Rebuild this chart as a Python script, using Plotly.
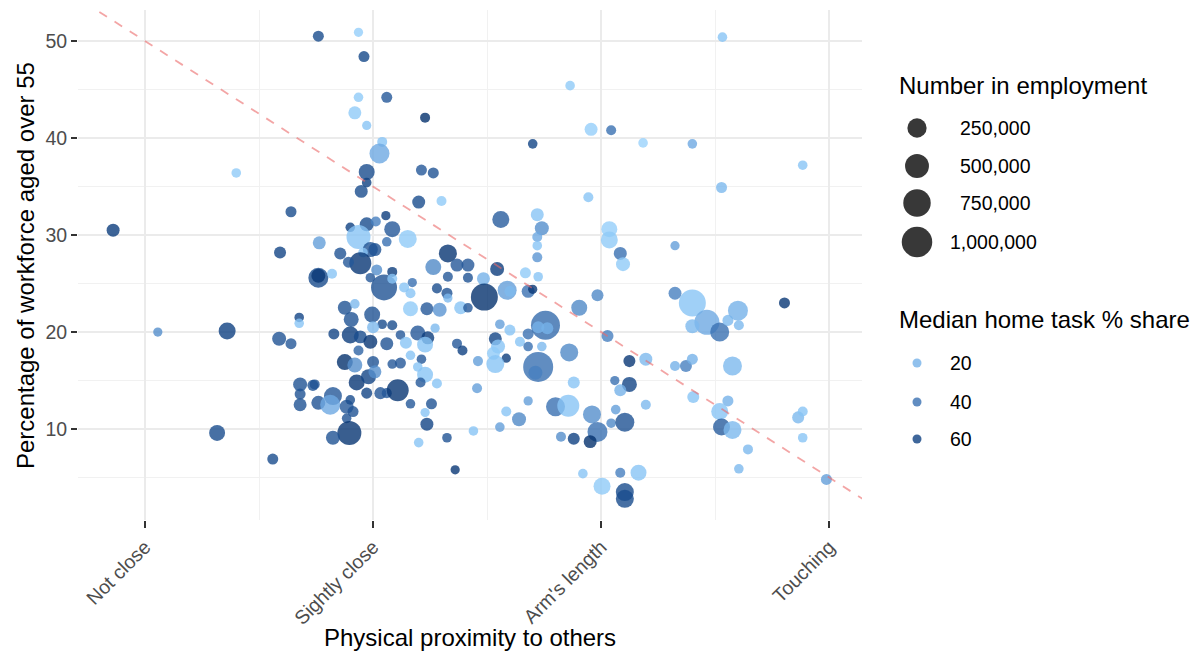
import numpy as np
import plotly.graph_objects as go

# ---------------- data ----------------
# physical proximity score (0 = Not close, 25 = Slightly close, 50 = Arm's length, 75 = Touching)
proximity = [
    -3.5, 1.4, 9.0, 7.9, 10.0, 14.0, 16.0, 14.7, 16.0, 14.8,
    16.9, 16.9, 17.0, 17.0, 17.0, 18.6, 19.0, 20.6, 20.3, 22.1,
    22.8, 22.5, 22.1, 22.4, 20.6, 19.0, 23.4, 24.0, 23.4, 26.5,
    23.0, 24.3, 30.7, 26.0, 25.7, 24.3, 24.3, 23.7, 30.3, 31.6,
    30.0, 32.5, 26.4, 27.1, 24.3, 22.5, 25.3, 23.4, 28.8, 19.1,
    26.5, 24.7, 25.2, 23.9, 21.4, 33.2, 23.6, 22.3, 31.6, 34.2,
    35.4, 19.0, 19.0, 20.5, 25.4, 27.1, 26.2, 27.1, 24.7, 29.3,
    28.4, 29.1, 33.2, 35.4, 32.0, 33.1, 33.2, 37.1, 37.2, 21.9,
    23.0, 22.6, 24.9, 29.1, 30.9, 32.3, 34.6, 35.4, 27.1, 26.0,
    25.0, 20.7, 22.5, 23.6, 24.7, 26.5, 28.0, 29.9, 31.0, 31.8,
    28.6, 30.7, 29.1, 34.2, 34.8, 23.4, 21.9, 23.0, 25.0, 27.1,
    28.0, 30.3, 29.9, 30.7, 32.0, 30.2, 23.2, 24.5, 25.2, 24.3,
    25.8, 26.5, 27.7, 29.1, 31.4, 30.7, 30.9, 33.1, 30.0, 34.0, 18.4,
    46.6, 48.9, 51.1, 42.5, 54.6, 60.0, 63.3, 72.1, 63.2, 48.6,
    39.0, 43.0, 43.5, 43.0, 43.0, 43.0, 50.9, 50.9, 52.1, 58.1,
    52.4, 38.6, 41.7, 43.1, 39.7, 40.0, 42.0, 42.5,
    38.9, 40.0, 41.1, 42.0, 42.0, 43.5, 43.9, 43.1, 44.1, 38.4,
    38.7, 38.2, 39.6, 38.4, 36.5, 43.1, 42.8, 46.5, 47.6, 49.6,
    50.7, 53.1, 54.9, 47.0, 51.5, 53.1, 52.1, 36.4, 42.0, 39.6,
    41.0, 45.0, 46.4, 49.0, 49.6, 51.1, 51.6, 52.6, 54.9, 36.0,
    38.9, 45.6, 47.0, 48.8, 48.0, 50.1, 52.1, 54.1, 52.6, 52.6,
    58.1, 60.0, 61.6, 60.0, 63.0, 63.9, 65.0, 65.1, 70.1, 58.1,
    59.3, 60.0, 64.4, 60.1, 63.9, 63.0, 63.2, 64.4, 66.1, 65.1,
    71.6, 72.1, 72.1, 74.7,
]

# percentage of workforce aged over 55
pct_over_55 = [
    30.5, 20.0, 20.1, 9.6, 36.4, 6.9, 32.4, 19.3, 18.8, 28.2,
    21.5, 20.9, 14.6, 13.6, 12.5, 14.6, 12.7, 13.4, 12.5, 12.3,
    11.8, 13.0, 11.1, 9.6, 9.1, 50.5, 50.9, 48.4, 44.2, 44.2,
    42.6, 41.3, 42.1, 39.6, 38.4, 36.5, 35.4, 34.5, 36.7, 36.4,
    33.4, 33.5, 32.0, 30.6, 31.1, 30.8, 31.4, 29.8, 29.6, 29.2,
    29.3, 28.5, 28.5, 28.2, 28.1, 28.1, 27.1, 27.2, 26.7, 26.9,
    26.9, 25.6, 25.8, 26.0, 26.4, 26.2, 24.6, 25.5, 25.6, 25.1,
    24.6, 24.0, 25.7, 25.6, 24.5, 24.0, 23.5, 25.5, 23.6, 22.5,
    22.9, 21.3, 21.8, 22.4, 22.4, 22.3, 22.5, 22.5, 20.7, 20.8,
    20.5, 19.8, 19.7, 19.5, 19.0, 18.8, 19.7, 19.9, 19.4, 20.4,
    18.9, 18.7, 17.6, 18.8, 18.1, 18.1, 16.9, 16.6, 16.9, 16.7,
    16.8, 17.2, 16.4, 15.6, 14.7, 14.8, 14.8, 15.4, 15.9, 13.7,
    13.7, 13.7, 14.0, 12.6, 12.6, 11.7, 10.5, 9.1, 8.6, 5.8, 14.5,
    45.4, 40.9, 40.8, 39.4, 39.5, 39.4, 50.4, 37.2, 34.9, 33.9,
    31.6, 32.1, 30.7, 29.8, 28.9, 27.7, 30.6, 29.5, 28.1, 28.9,
    27.0, 26.5, 26.1, 25.7, 24.3, 24.2, 24.2, 24.4,
    20.8, 20.2, 19.0, 19.8, 18.5, 18.5, 20.7, 20.5, 20.4, 19.3,
    18.5, 17.8, 17.3, 16.7, 17.0, 16.4, 15.8, 17.9, 22.5, 23.8,
    19.6, 17.0, 17.2, 14.8, 15.0, 14.6, 14.0, 14.2, 12.9, 11.8,
    11.0, 12.3, 12.4, 11.5, 9.7, 10.6, 12.0, 10.7, 12.5, 9.8,
    10.2, 9.2, 9.0, 8.7, 5.4, 4.1, 5.5, 5.5, 3.5, 2.8,
    24.0, 23.0, 21.0, 20.6, 20.0, 21.2, 22.2, 20.7, 23.0, 16.5,
    16.5, 17.2, 16.5, 13.3, 12.9, 11.8, 10.2, 9.9, 7.9, 5.9,
    11.2, 11.8, 9.1, 4.8,
]

# number in employment (thousands)
employment_k = [
    49, 3, 160, 126, 5, 18, 18, 71, 18, 32,
    5, 5, 71, 18, 49, 8, 71, 198, 284, 71,
    18, 5, 5, 506, 71, 18, 3, 18, 5, 18,
    49, 3, 8, 8, 284, 126, 5, 49, 18, 18,
    49, 8, 3, 126, 71, 5, 8, 506, 198, 49,
    5, 97, 49, 5, 32, 198, 387, 18, 126, 49,
    49, 284, 71, 8, 18, 8, 640, 8, 5, 3,
    8, 8, 8, 8, 8, 18, 3, 49, 713, 71,
    5, 97, 126, 97, 49, 71, 49, 5, 8, 5,
    32, 18, 160, 49, 71, 49, 5, 97, 49, 3,
    32, 126, 5, 8, 8, 8, 126, 97, 32, 5,
    18, 5, 5, 126, 8, 8, 126, 97, 49, 18,
    32, 8, 387, 5, 18, 3, 49, 5, 5, 3, 18,
    5, 49, 8, 5, 5, 5, 5, 5, 18, 8,
    160, 49, 71, 8, 5, 8, 126, 160, 49, 3,
    71, 71, 18, 5, 239, 18, 49, 3,
    5, 18, 8, 18, 5, 5, 871, 32, 32, 49,
    71, 49, 3, 198, 8, 956, 71, 198, 126, 32,
    32, 32, 49, 32, 3, 97, 32, 8, 3, 8,
    71, 239, 387, 198, 284, 5, 5, 239, 8, 5,
    5, 8, 32, 49, 5, 160, 8, 126, 198, 198,
    49, 713, 571, 71, 239, 18, 284, 8, 18, 8,
    32, 18, 239, 32, 18, 160, 160, 198, 8, 5,
    32, 8, 5, 18,
]

# median home task % share
home_share = [
    62, 30, 60, 55, 12, 55, 55, 52, 50, 58,
    58, 15, 52, 52, 52, 52, 52, 50, 22, 50,
    52, 55, 52, 66, 52, 55, 10, 57, 12, 50,
    12, 15, 68, 15, 22, 55, 60, 55, 50, 52,
    55, 12, 62, 50, 55, 60, 35, 15, 12, 25,
    40, 52, 52, 15, 52, 66, 65, 50, 32, 50,
    50, 55, 65, 15, 30, 62, 52, 15, 50, 40,
    15, 15, 50, 52, 55, 52, 18, 20, 68, 52,
    18, 52, 52, 12, 50, 28, 15, 50, 55, 55,
    18, 58, 62, 55, 65, 52, 50, 50, 62, 18,
    15, 15, 15, 50, 60, 45, 68, 30, 52, 50,
    50, 50, 15, 15, 15, 50, 65, 58, 30, 58,
    52, 50, 66, 50, 52, 15, 58, 52, 15, 65, 52,
    12, 10, 40, 58, 8, 22, 15, 15, 18, 15,
    48, 15, 30, 22, 15, 28, 10, 12, 40, 25,
    12, 62, 12, 15, 25, 18, 40, 65,
    25, 15, 15, 40, 40, 18, 42, 20, 20, 58,
    15, 12, 62, 15, 25, 40, 35, 32, 32, 32,
    35, 65, 18, 15, 40, 58, 20, 25, 25, 15,
    32, 40, 15, 30, 40, 32, 25, 52, 18, 15,
    25, 30, 60, 68, 15, 12, 35, 15, 55, 55,
    35, 15, 22, 18, 40, 18, 20, 18, 65, 20,
    35, 20, 18, 15, 20, 15, 48, 18, 18, 18,
    18, 15, 15, 25,
]

assert len(proximity) == len(pct_over_55) == len(employment_k) == len(home_share)

x_tick_vals = [0, 25, 50, 75]
x_tick_text = ["Not close", "Sightly close", "Arm's length", "Touching"]
y_tick_vals = [10, 20, 30, 40, 50]

size_legend_vals = [250000, 500000, 750000, 1000000]
size_legend_text = ["250,000", "500,000", "750,000", "1,000,000"]
colour_legend_vals = [20, 40, 60]

abline_intercept = 50
abline_slope = -0.6

# ---------------- scales ----------------
COLORSCALE = [
    [0.00, "#A2D8FE"],
    [0.16, "#88C4F5"],
    [0.30, "#67A2DD"],
    [0.56, "#386FB0"],
    [0.87, "#0F4182"],
    [1.00, "#05326E"],
]
CMIN, CMAX = 5, 68
ALPHA = 0.8


def size_px(n):
    n = np.asarray(n, dtype=float)
    return 8 + 22.5 * np.sqrt(n / 1e6)


FONT = "Liberation Sans, Arial, Helvetica, sans-serif"

fig = go.Figure()

fig.add_trace(go.Scatter(
    x=proximity, y=pct_over_55, mode="markers",
    marker=dict(
        size=size_px(np.array(employment_k) * 1000),
        color=home_share, colorscale=COLORSCALE, cmin=CMIN, cmax=CMAX,
        opacity=ALPHA, line=dict(width=0),
    ),
    hoverinfo="skip", showlegend=False,
))

# dashed reference line
line_x = np.array([-10.0, 90.0])
fig.add_trace(go.Scatter(
    x=line_x, y=abline_intercept + abline_slope * line_x, mode="lines",
    line=dict(color="rgba(235,105,105,0.6)", width=1.8, dash="9px,9px"),
    hoverinfo="skip", showlegend=False,
))

# ---------------- manual legends (helper axis in pixel-like units) ----------------
key_x = 37
size_key_y = [128, 166, 203, 242]
colour_key_y = [363, 402, 439]

fig.add_trace(go.Scatter(
    x=[key_x] * len(size_legend_vals), y=size_key_y, xaxis="x2", yaxis="y2",
    mode="markers",
    marker=dict(size=size_px(size_legend_vals), color="black", opacity=0.78, line=dict(width=0)),
    hoverinfo="skip", showlegend=False, cliponaxis=False,
))
fig.add_trace(go.Scatter(
    x=[key_x] * len(colour_legend_vals), y=colour_key_y, xaxis="x2", yaxis="y2",
    mode="markers",
    marker=dict(size=9, color=colour_legend_vals, colorscale=COLORSCALE, cmin=CMIN, cmax=CMAX,
                opacity=ALPHA, line=dict(width=0)),
    hoverinfo="skip", showlegend=False, cliponaxis=False,
))

annotations = []
annotations.append(dict(xref="x2", yref="y2", x=17, y=85, text="Number in employment",
                        showarrow=False, xanchor="left", yanchor="middle",
                        font=dict(family=FONT, size=24, color="black")))
for i, (lab, yy) in enumerate(zip(size_legend_text, size_key_y)):
    annotations.append(dict(xref="x2", yref="y2", x=68 if i == 3 else 78, y=yy, text=lab,
                            showarrow=False, xanchor="left", yanchor="middle",
                            font=dict(family=FONT, size=19.5, color="black")))
annotations.append(dict(xref="x2", yref="y2", x=17, y=319, text="Median home task % share",
                        showarrow=False, xanchor="left", yanchor="middle",
                        font=dict(family=FONT, size=24, color="black")))
for v, yy in zip(colour_legend_vals, colour_key_y):
    annotations.append(dict(xref="x2", yref="y2", x=68, y=yy, text=str(v),
                            showarrow=False, xanchor="left", yanchor="middle",
                            font=dict(family=FONT, size=19.5, color="black")))

# axis titles
annotations.append(dict(xref="paper", yref="paper", x=0.3494, y=-0.231,
                        text="Physical proximity to others", showarrow=False,
                        xanchor="center", yanchor="middle",
                        font=dict(family=FONT, size=24, color="black")))
annotations.append(dict(xref="paper", yref="paper", x=-0.0472, y=0.498,
                        text="Percentage of workforce aged over 55", showarrow=False,
                        textangle=-90, xanchor="center", yanchor="middle",
                        font=dict(family=FONT, size=24, color="black")))

# page body has an 8px margin: figure is 1192x645 so it ends at the window edge
fig.update_layout(
    width=1192, height=645,
    margin=dict(l=70, r=0, t=2, b=133, pad=0),
    paper_bgcolor="white", plot_bgcolor="white",
    showlegend=False,
    font=dict(family=FONT),
    annotations=annotations,
    xaxis=dict(
        domain=[0, 784 / 1122], range=[-7.35, 78.6],
        tickmode="array", tickvals=x_tick_vals, ticktext=x_tick_text, tickangle=-45,
        ticks="outside", ticklen=7, tickwidth=1.5, tickcolor="#333333",
        tickfont=dict(family=FONT, size=19.5, color="#4d4d4d"),
        showgrid=True, gridcolor="#ebebeb", gridwidth=1.5,
        zeroline=False, showline=False,
        minor=dict(tickmode="linear", tick0=12.5, dtick=25, showgrid=True,
                   gridcolor="#f1f1f1", gridwidth=1.2, ticks=""),
    ),
    yaxis=dict(
        range=[0.62, 53.2],
        tickmode="array", tickvals=y_tick_vals,
        ticks="outside", ticklen=6, tickwidth=1.5, tickcolor="#333333",
        tickfont=dict(family=FONT, size=19.5, color="#4d4d4d"),
        showgrid=True, gridcolor="#ebebeb", gridwidth=1.5,
        zeroline=False, showline=False,
        minor=dict(tickmode="linear", tick0=5, dtick=10, showgrid=True,
                   gridcolor="#f1f1f1", gridwidth=1.2, ticks=""),
    ),
    xaxis2=dict(domain=[802 / 1122, 1], range=[0, 320], anchor="y2", visible=False, fixedrange=True),
    yaxis2=dict(domain=[0, 1], range=[520, 10], anchor="x2", visible=False, fixedrange=True),
)

fig.write_html("out.html")
